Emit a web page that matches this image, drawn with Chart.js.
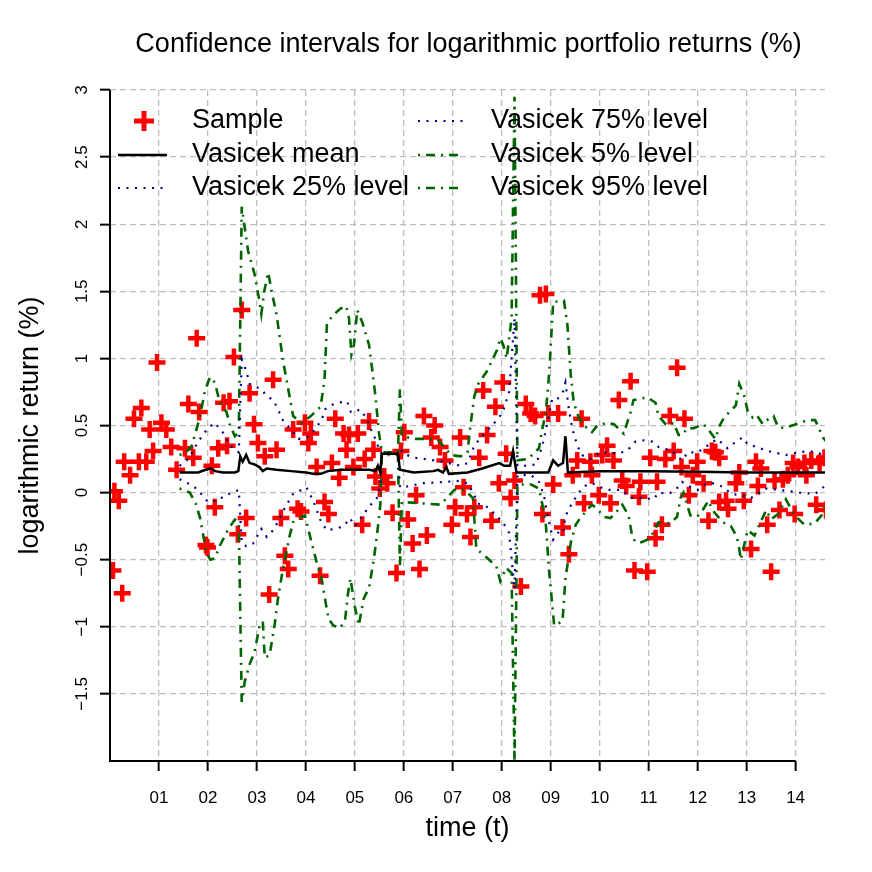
<!DOCTYPE html>
<html>
<head>
<meta charset="utf-8">
<script src="https://cdn.jsdelivr.net/npm/chart.js@4.4.1/dist/chart.umd.min.js"></script>
<style>
  html, body { margin: 0; padding: 0; background: #fff; }
  canvas { display: block; }
</style>
</head>
<body>
<canvas id="returns-chart" width="872" height="872"></canvas>
<script>
// time axis is years since 2000, ticks labelled 01..14
const xTicks = [1, 2, 3, 4, 5, 6, 7, 8, 9, 10, 11, 12, 13, 14]
const yTicks = [-1.5, -1, -0.5, 0, 0.5, 1, 1.5, 2, 2.5, 3]

// observed monthly log returns (%), [t, value]
const sample = [
  [0.06, -0.58], [0.09, 0.01], [0.18, -0.06], [0.25, -0.75], [0.29, 0.23], [0.41, 0.13], [0.49, 0.55],
  [0.59, 0.23], [0.64, 0.63], [0.74, 0.23], [0.81, 0.47], [0.88, 0.31], [0.96, 0.97], [1.05, 0.52],
  [1.15, 0.47], [1.25, 0.34], [1.36, 0.17], [1.53, 0.33], [1.6, 0.66], [1.7, 0.26], [1.77, 1.15],
  [1.82, 0.6], [1.96, -0.39], [1.99, -0.41], [2.08, 0.2], [2.14, -0.11], [2.21, 0.33], [2.32, 0.67],
  [2.39, 0.35], [2.44, 0.68], [2.53, 1.01], [2.61, -0.31], [2.69, 1.36], [2.78, -0.19], [2.85, 0.74],
  [2.94, 0.51], [3.02, 0.37], [3.16, 0.27], [3.25, -0.76], [3.33, 0.84], [3.4, 0.32], [3.49, -0.19],
  [3.57, -0.47], [3.64, -0.57], [3.74, 0.47], [3.83, -0.12], [3.9, -0.14], [3.98, 0.52], [4.05, 0.37],
  [4.1, 0.44], [4.22, 0.19], [4.29, -0.62], [4.38, -0.07], [4.46, -0.16], [4.53, 0.22], [4.6, 0.55],
  [4.68, 0.11], [4.77, 0.44], [4.83, 0.32], [4.88, 0.43], [4.97, 0.19], [5.06, 0.44], [5.15, -0.24],
  [5.2, 0.25], [5.29, 0.53], [5.38, 0.32], [5.42, 0.12], [5.51, 0.03], [5.6, 0.12], [5.66, 0.07],
  [5.77, -0.15], [5.85, -0.6], [5.94, 0.31], [6.01, 0.45], [6.08, -0.2], [6.18, -0.38], [6.25, -0.02],
  [6.32, -0.57], [6.41, 0.57], [6.47, -0.32], [6.56, 0.41], [6.63, 0.5], [6.74, 0.34], [6.84, 0.24],
  [6.98, -0.24], [7.05, -0.11], [7.15, 0.41], [7.22, 0.04], [7.29, -0.16], [7.36, -0.33], [7.44, -0.11],
  [7.54, 0.26], [7.62, 0.76], [7.7, 0.43], [7.79, -0.21], [7.87, 0.64], [7.94, 0.07], [8.02, 0.82],
  [8.09, 0.29], [8.18, -0.04], [8.26, 0.09], [8.39, -0.7], [8.49, 0.66], [8.59, 0.59], [8.68, 0.57],
  [8.78, 1.47], [8.83, -0.16], [8.9, 1.48], [8.95, 0.59], [9.05, 0.06], [9.15, 0.59], [9.24, -0.26],
  [9.37, -0.46], [9.45, 0.13], [9.54, 0.24], [9.63, 0.55], [9.68, -0.08], [9.81, 0.23], [9.84, 0.13],
  [9.98, -0.02], [10.05, 0.28], [10.15, 0.35], [10.22, -0.08], [10.28, 0.24], [10.39, 0.69], [10.46, 0.09],
  [10.54, 0.05], [10.63, 0.83], [10.71, -0.58], [10.8, -0.03], [10.83, 0.08], [10.97, -0.59], [11.03, 0.26],
  [11.14, -0.34], [11.17, 0.08], [11.27, -0.24], [11.34, 0.25], [11.43, 0.57], [11.51, 0.31], [11.58, 0.93],
  [11.67, 0.19], [11.73, 0.55], [11.82, -0.02], [11.9, 0.13], [11.99, 0.23], [12.12, 0.07], [12.22, -0.21],
  [12.29, 0.31], [12.36, 0.3], [12.44, 0.26], [12.44, -0.07], [12.58, -0.06], [12.62, -0.12], [12.78, 0.07],
  [12.85, 0.15], [12.94, -0.06], [13.09, -0.42], [13.19, 0.23], [13.23, 0.05], [13.29, 0.18], [13.42, -0.24],
  [13.5, -0.59], [13.57, 0.09], [13.67, -0.13], [13.74, 0.1], [13.84, 0.13], [13.95, 0.22], [13.98, -0.16],
  [14.05, 0.19], [14.18, 0.22], [14.22, 0.13], [14.32, 0.24], [14.42, -0.09], [14.49, 0.22], [14.59, 0.26],
  [14.62, -0.13]
]

const meanLine = [
  [1.42, 0.15], [1.6, 0.15], [1.8, 0.15], [1.95, 0.17], [2.05, 0.18], [2.15, 0.16], [2.3, 0.15], [2.55, 0.15],
  [2.62, 0.16], [2.66, 0.27], [2.71, 0.23], [2.78, 0.28], [2.85, 0.22], [2.95, 0.21], [3.05, 0.19], [3.12, 0.16],
  [3.2, 0.18], [3.4, 0.17], [3.7, 0.16], [4.0, 0.15], [4.15, 0.14], [4.3, 0.14], [4.45, 0.16], [4.7, 0.17],
  [5.0, 0.17], [5.3, 0.17], [5.42, 0.16], [5.47, 0.2], [5.52, 0.15], [5.55, 0.29], [5.88, 0.29], [5.92, 0.17],
  [6.2, 0.15], [6.6, 0.16], [6.7, 0.17], [6.8, 0.15], [6.87, 0.19], [6.92, 0.14], [7.3, 0.15], [7.6, 0.18],
  [7.95, 0.22], [8.05, 0.2], [8.17, 0.2], [8.23, 0.31], [8.3, 0.15], [8.8, 0.15], [8.95, 0.15], [9.05, 0.24],
  [9.15, 0.2], [9.25, 0.22], [9.3, 0.42], [9.35, 0.15], [10, 0.16], [11, 0.16], [12, 0.155], [13, 0.15], [14.6, 0.15]
]

const q25Line = [
  [1.42, 0.1], [1.7, 0.05], [1.84, 0.0], [2.0, -0.07], [2.2, -0.06], [2.35, -0.02], [2.5, 0.0], [2.63, 0.02],
  [2.69, -0.37], [2.78, -0.4], [2.92, -0.38], [3.09, -0.27], [3.2, -0.33], [3.36, -0.27], [3.5, -0.16], [3.64, -0.07],
  [3.74, -0.01], [3.91, 0.02], [4.01, 0.04], [4.15, -0.06], [4.29, -0.2], [4.42, -0.28], [4.6, -0.27], [4.77, -0.25],
  [4.9, -0.19], [5.0, -0.25], [5.1, -0.2], [5.3, -0.1], [5.45, -0.04], [5.52, 0.05], [5.55, 0.29], [5.88, 0.29],
  [5.92, 0.04], [6.0, 0.04], [6.38, 0.07], [6.89, 0.08], [7.06, 0.09], [7.3, 0.07], [7.44, -0.02], [7.51, -0.08],
  [7.72, -0.11], [8.02, -0.22], [8.15, -0.3], [8.26, -0.72], [8.32, 0.13], [8.6, 0.13], [8.76, 0.08], [8.86, -0.02],
  [8.95, -0.2], [9.05, -0.35], [9.17, -0.29], [9.25, -0.3], [9.3, -0.18], [9.37, -0.12], [9.57, 0.0], [9.7, 0.05],
  [9.85, 0.07], [10.01, 0.04], [10.2, 0.02], [10.45, 0.02], [10.63, -0.04], [10.9, -0.04], [11.1, -0.05], [11.2, 0.0],
  [11.4, -0.01], [11.55, 0.02], [11.68, 0.08], [11.8, 0.05], [12.0, 0.02], [12.15, 0.06], [12.3, 0.07], [12.47, 0.05],
  [12.7, -0.01], [12.9, -0.02], [13.09, -0.04], [13.4, 0.03], [13.67, 0.02], [14.08, 0.0], [14.4, -0.01], [14.6, 0.05]
]

const q75Line = [
  [1.42, 0.2], [1.6, 0.25], [1.8, 0.38], [2.0, 0.48], [2.14, 0.52], [2.3, 0.45], [2.45, 0.35], [2.63, 0.3],
  [2.69, 0.99], [2.78, 0.91], [2.85, 0.81], [3.09, 0.77], [3.2, 0.72], [3.33, 0.69], [3.43, 0.62], [3.53, 0.54],
  [3.67, 0.48], [3.85, 0.4], [4.08, 0.42], [4.2, 0.48], [4.32, 0.54], [4.39, 0.62], [4.5, 0.65], [4.66, 0.67],
  [4.84, 0.68], [4.92, 0.6], [5.0, 0.6], [5.1, 0.62], [5.25, 0.55], [5.35, 0.45], [5.42, 0.4], [5.52, 0.3],
  [5.55, 0.29], [5.88, 0.29], [5.92, 0.33], [6.0, 0.29], [6.2, 0.26], [6.45, 0.25], [6.79, 0.23], [7.16, 0.2],
  [7.3, 0.22], [7.44, 0.35], [7.6, 0.42], [7.8, 0.5], [7.92, 0.55], [8.02, 0.6], [8.15, 0.75], [8.26, 1.3],
  [8.32, 0.2], [8.46, 0.2], [8.7, 0.21], [8.83, 0.35], [8.95, 0.55], [9.03, 0.7], [9.14, 0.7], [9.24, 0.74],
  [9.3, 0.82], [9.37, 0.62], [9.44, 0.48], [9.54, 0.35], [9.64, 0.28], [9.8, 0.25], [10.01, 0.3], [10.2, 0.3],
  [10.35, 0.29], [10.55, 0.31], [10.73, 0.38], [10.9, 0.39], [11.07, 0.38], [11.2, 0.34], [11.48, 0.31], [11.68, 0.24],
  [11.8, 0.3], [12.0, 0.3], [12.2, 0.35], [12.4, 0.4], [12.61, 0.33], [12.82, 0.39], [12.92, 0.41], [13.02, 0.36],
  [13.2, 0.34], [13.43, 0.31], [13.8, 0.28], [14.05, 0.3], [14.29, 0.31], [14.5, 0.29], [14.63, 0.24]
]

const q05Line = [
  [1.42, 0.03], [1.63, 0.0], [1.75, -0.08], [1.84, -0.19], [1.97, -0.45], [2.05, -0.5], [2.14, -0.49], [2.25, -0.39],
  [2.42, -0.27], [2.55, -0.2], [2.63, -0.22], [2.69, -1.56], [2.75, -1.41], [2.85, -1.28], [2.95, -1.19], [3.05, -1.0],
  [3.12, -0.96], [3.16, -1.23], [3.26, -1.21], [3.36, -0.99], [3.43, -0.79], [3.53, -0.57], [3.67, -0.32], [3.74, -0.22],
  [3.98, -0.17], [4.08, -0.32], [4.22, -0.52], [4.32, -0.64], [4.39, -0.79], [4.46, -0.94], [4.56, -0.99], [4.7, -1.01],
  [4.8, -0.95], [4.86, -0.75], [4.91, -0.64], [5.0, -0.85], [5.08, -0.99], [5.18, -0.79], [5.29, -0.71], [5.39, -0.49],
  [5.46, -0.29], [5.52, -0.09], [5.55, 0.28], [5.88, 0.28], [5.92, -0.55], [5.96, -0.07], [6.38, -0.08], [6.75, -0.09],
  [7.03, 0.02], [7.16, 0.03], [7.3, 0.0], [7.41, -0.04], [7.48, -0.42], [7.68, -0.48], [7.89, -0.55], [7.97, -0.66],
  [8.09, -0.56], [8.2, -0.6], [8.26, -2.0], [8.32, 0.06], [8.6, 0.06], [8.76, 0.03], [8.83, -0.09], [8.9, -0.24],
  [8.97, -0.6], [9.07, -0.99], [9.24, -0.96], [9.3, -0.64], [9.41, -0.37], [9.51, -0.24], [9.6, -0.19], [9.84, -0.09],
  [9.95, -0.12], [10.08, -0.18], [10.22, -0.19], [10.35, -0.14], [10.46, -0.09], [10.59, -0.17], [10.66, -0.32], [10.73, -0.37],
  [10.86, -0.37], [11.03, -0.34], [11.2, -0.22], [11.44, -0.23], [11.58, -0.18], [11.65, -0.04], [11.71, 0.0], [11.85, -0.17],
  [11.99, -0.18], [12.12, -0.12], [12.22, -0.06], [12.3, -0.13], [12.51, -0.22], [12.68, -0.25], [12.8, -0.33], [12.85, -0.42],
  [12.88, -0.5], [13.02, -0.28], [13.16, -0.32], [13.4, -0.13], [13.5, -0.2], [13.64, -0.16], [13.8, -0.05], [13.98, -0.17],
  [14.18, -0.24], [14.39, -0.23], [14.53, -0.17], [14.63, -0.07]
]

const q95Line = [
  [1.42, 0.28], [1.55, 0.3], [1.66, 0.34], [1.75, 0.45], [1.84, 0.57], [1.94, 0.76], [2.04, 0.86], [2.14, 0.82],
  [2.21, 0.72], [2.3, 0.64], [2.38, 0.6], [2.45, 0.5], [2.55, 0.42], [2.63, 0.45], [2.69, 2.13], [2.82, 1.8],
  [2.95, 1.63], [3.05, 1.43], [3.09, 1.33], [3.15, 1.5], [3.23, 1.64], [3.3, 1.5], [3.4, 1.33], [3.53, 0.99],
  [3.64, 0.77], [3.74, 0.57], [3.91, 0.52], [4.1, 0.57], [4.3, 0.64], [4.38, 0.84], [4.43, 1.26], [4.55, 1.32],
  [4.7, 1.37], [4.82, 1.39], [4.88, 1.3], [4.93, 1.03], [4.98, 1.1], [5.05, 1.36], [5.15, 1.27], [5.29, 1.1],
  [5.36, 0.9], [5.42, 0.72], [5.49, 0.45], [5.55, 0.3], [5.88, 0.3], [5.92, 0.77], [5.96, 0.42], [6.24, 0.4],
  [6.68, 0.4], [6.85, 0.33], [6.96, 0.28], [7.16, 0.27], [7.3, 0.3], [7.36, 0.5], [7.44, 0.72], [7.52, 0.81],
  [7.69, 0.9], [7.9, 1.06], [7.97, 1.15], [8.03, 1.1], [8.1, 1.0], [8.2, 1.3], [8.26, 2.95], [8.32, 0.24],
  [8.53, 0.25], [8.76, 0.33], [8.83, 0.48], [8.9, 0.6], [8.97, 0.9], [9.05, 1.42], [9.27, 1.43], [9.34, 1.25],
  [9.41, 0.87], [9.47, 0.67], [9.57, 0.56], [9.68, 0.5], [9.84, 0.45], [9.95, 0.5], [10.15, 0.52], [10.29, 0.51],
  [10.49, 0.44], [10.63, 0.6], [10.69, 0.69], [10.97, 0.71], [11.14, 0.67], [11.2, 0.57], [11.37, 0.5], [11.51, 0.52],
  [11.61, 0.43], [11.7, 0.43], [11.78, 0.48], [11.92, 0.48], [12.12, 0.51], [12.26, 0.45], [12.36, 0.4], [12.45, 0.5],
  [12.54, 0.56], [12.78, 0.65], [12.85, 0.81], [12.95, 0.72], [13.02, 0.61], [13.12, 0.56], [13.2, 0.58], [13.33, 0.51],
  [13.45, 0.55], [13.55, 0.57], [13.64, 0.49], [13.77, 0.48], [14.01, 0.51], [14.25, 0.54], [14.4, 0.54], [14.56, 0.41],
  [14.63, 0.38]
]

const FONT = '"Liberation Sans", Arial, Helvetica, sans-serif'
const toXY = (pairs) => pairs.map(([x, y]) => ({ x, y }))

const lineSet = (label, pairs, color, width, dash) => ({
  label,
  data: toXY(pairs),
  showLine: true,
  borderColor: color,
  backgroundColor: color,
  borderWidth: width,
  borderDash: dash,
  pointRadius: 0,
  tension: 0,
  clip: 0,
})

// R-style decorations: axis lines, rotated y labels, titles, legend
const rDecor = {
  id: "rDecor",
  afterDraw(chart) {
    const { ctx, chartArea, scales } = chart
    const xs = scales.x
    const ys = scales.y
    ctx.save()

    // axis lines
    ctx.strokeStyle = "#000"
    ctx.lineWidth = 2
    ctx.setLineDash([])
    ctx.beginPath()
    ctx.moveTo(xs.getPixelForValue(0), ys.getPixelForValue(3))
    ctx.lineTo(xs.getPixelForValue(0), ys.getPixelForValue(-2))
    ctx.lineTo(xs.getPixelForValue(14), ys.getPixelForValue(-2))
    ctx.stroke()

    // y tick labels, rotated like R (las = 0)
    ctx.fillStyle = "#000"
    ctx.font = "17px " + FONT
    ctx.textAlign = "center"
    ctx.textBaseline = "middle"
    yTicks.forEach((v) => {
      ctx.save()
      ctx.translate(82, ys.getPixelForValue(v))
      ctx.rotate(-Math.PI / 2)
      ctx.fillText(String(v).replace("-", "\u2212"), 0, 0)
      ctx.restore()
    })

    const midX = (chartArea.left + chartArea.right) / 2
    ctx.font = "27px " + FONT
    ctx.fillText("Confidence intervals for logarithmic portfolio returns (%)", midX + 1, 45)
    ctx.fillText("time (t)", midX, 829)
    ctx.save()
    ctx.translate(31, (chartArea.top + chartArea.bottom) / 2)
    ctx.rotate(-Math.PI / 2)
    ctx.fillText("logarithmic return (%)", 0, 0)
    ctx.restore()

    // legend, two columns, no frame
    const ds = chart.data.datasets
    const rows = [121, 155, 188]
    const items = [
      { x0: 118, x1: 167, tx: 192, y: rows[0], label: "Sample", set: ds[5], cross: true },
      { x0: 118, x1: 167, tx: 192, y: rows[1], label: "Vasicek mean", set: ds[0] },
      { x0: 118, x1: 167, tx: 192, y: rows[2], label: "Vasicek 25% level", set: ds[1] },
      { x0: 418, x1: 464, tx: 491, y: rows[0], label: "Vasicek 75% level", set: ds[2] },
      { x0: 418, x1: 464, tx: 491, y: rows[1], label: "Vasicek 5% level", set: ds[3] },
      { x0: 418, x1: 464, tx: 491, y: rows[2], label: "Vasicek 95% level", set: ds[4] },
    ]
    items.forEach((it) => {
      ctx.strokeStyle = it.set.borderColor
      if (it.cross) {
        const cx = 144
        ctx.lineWidth = 5
        ctx.setLineDash([])
        ctx.beginPath()
        ctx.moveTo(cx - 10, it.y)
        ctx.lineTo(cx + 10, it.y)
        ctx.moveTo(cx, it.y - 10)
        ctx.lineTo(cx, it.y + 10)
        ctx.stroke()
      } else {
        ctx.lineWidth = it.set.borderWidth
        ctx.setLineDash(it.set.borderDash || [])
        ctx.beginPath()
        ctx.moveTo(it.x0, it.y)
        ctx.lineTo(it.x1, it.y)
        ctx.stroke()
      }
      ctx.setLineDash([])
      ctx.fillStyle = "#000"
      ctx.textAlign = "left"
      ctx.fillText(it.label, it.tx, it.y)
    })
    ctx.restore()
  },
}

document.addEventListener("DOMContentLoaded", () => {
  const canvas = document.getElementById("returns-chart")
  new Chart(canvas, {
    type: "scatter",
    data: {
      datasets: [
        lineSet("Vasicek mean", meanLine, "#000000", 2.5, []),
        lineSet("Vasicek 25% level", q25Line, "#00008b", 2.2, [2, 6.5]),
        lineSet("Vasicek 75% level", q75Line, "#00008b", 2.2, [2, 6.5]),
        lineSet("Vasicek 5% level", q05Line, "#006400", 2.6, [2, 6, 9, 6]),
        lineSet("Vasicek 95% level", q95Line, "#006400", 2.6, [2, 6, 9, 6]),
        {
          label: "Sample",
          data: toXY(sample),
          pointStyle: "cross",
          pointRadius: 8.5,
          pointBorderWidth: 4.5,
          borderColor: "#ff0000",
          backgroundColor: "#ff0000",
          clip: 0,
        },
      ],
    },
    options: {
      responsive: false,
      animation: false,
      devicePixelRatio: 1,
      layout: { padding: { top: 90, right: 47, left: 0, bottom: 0 } },
      plugins: {
        legend: { display: false },
        tooltip: { enabled: false },
      },
      scales: {
        x: {
          type: "linear",
          min: 0,
          max: 14.6,
          afterBuildTicks: (scale) => {
            scale.ticks = xTicks.map((v) => ({ value: v }))
          },
          afterFit: (scale) => {
            scale.height = 111
          },
          grid: { color: "#bebebe", lineWidth: 1.3, tickColor: "#000", tickLength: 10, tickWidth: 2 },
          border: { display: false, dash: [6, 4] },
          ticks: {
            color: "#000",
            font: { family: FONT, size: 17 },
            padding: 17,
            maxRotation: 0,
            autoSkip: false,
            callback: (value) => String(value).padStart(2, "0"),
          },
        },
        y: {
          type: "linear",
          min: -2,
          max: 3,
          afterBuildTicks: (scale) => {
            scale.ticks = yTicks.map((v) => ({ value: v }))
          },
          afterFit: (scale) => {
            scale.width = 110
          },
          grid: { color: "#bebebe", lineWidth: 1.3, tickColor: "#000", tickLength: 10, tickWidth: 2 },
          border: { display: false, dash: [6, 4] },
          ticks: { display: false },
        },
      },
    },
    plugins: [rDecor],
  })
})
</script>
</body>
</html>
